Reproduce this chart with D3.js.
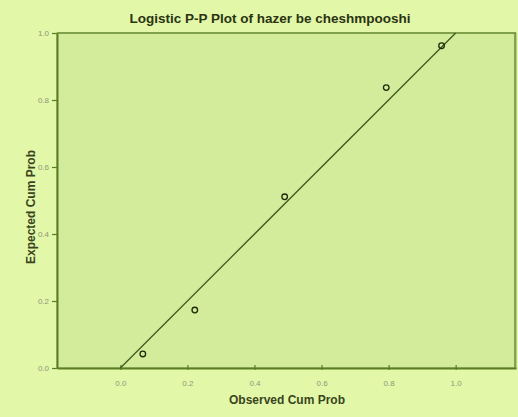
<!DOCTYPE html>
<html>
<head>
<meta charset="utf-8">
<script src="https://cdn.jsdelivr.net/npm/d3@7"></script>
<style>
  html, body { margin: 0; padding: 0; background: #e2f7a8; }
  svg { display: block; }
</style>
</head>
<body>
<div id="chart"></div>
<script>
// observed vs expected cumulative probabilities
const observed = [0.067, 0.222, 0.490, 0.793, 0.958]
const expected = [0.042, 0.173, 0.511, 0.837, 0.962]
const tickValues = [0.0, 0.2, 0.4, 0.6, 0.8, 1.0]
const refLine = [0, 1]

const width = 518
const height = 417
const margin = { top: 33, right: 2, bottom: 49, left: 57 }

const svg = d3.select('#chart')
  .append('svg')
    .attr('width', width)
    .attr('height', height)

svg.append('rect')
  .attr('width', width)
  .attr('height', height)
  .attr('fill', '#e2f7a8')

const x = d3.scaleLinear()
  .domain([-0.189, 1.18])
  .range([margin.left, width - margin.right])

const y = d3.scaleLinear()
  .domain([0, 1])
  .range([height - margin.bottom, margin.top])

// plot area
svg.append('rect')
  .attr('x', x.range()[0])
  .attr('y', y(1))
  .attr('width', x.range()[1] - x.range()[0])
  .attr('height', y(0) - y(1))
  .attr('fill', '#d3ec9b')
  .attr('stroke', '#8fae5a')
  .attr('stroke-width', 1)

const axisColor = '#5b7d24'

const xAxis = svg.append('g')
  .attr('transform', 'translate(0,' + y(0) + ')')
  .call(d3.axisBottom(x).tickValues(tickValues).tickFormat(d3.format('.1f')).tickSize(5).tickSizeOuter(0))
const yAxis = svg.append('g')
  .attr('transform', 'translate(' + x.range()[0] + ',0)')
  .call(d3.axisLeft(y).tickValues(tickValues).tickFormat(d3.format('.1f')).tickSize(5).tickSizeOuter(0))

xAxis.selectAll('.tick line').attr('transform', 'translate(0,-3)')
;[xAxis, yAxis].forEach(ax => {
  ax.select('.domain').attr('stroke', axisColor).attr('stroke-width', 2)
  ax.selectAll('.tick line').attr('stroke', axisColor).attr('stroke-width', 1.2)
  ax.selectAll('.tick text')
    .attr('fill', '#8a9a78')
    .style('font-family', 'Arial, "Liberation Sans", sans-serif')
    .style('font-size', '8px')
})
xAxis.selectAll('.tick text').attr('dy', '1.2em')

// top and right border of the plot
svg.append('line')
  .attr('x1', x.range()[0]).attr('x2', x.range()[1])
  .attr('y1', y(1)).attr('y2', y(1))
  .attr('stroke', '#6f8f3a').attr('stroke-width', 1.5)
svg.append('line')
  .attr('x1', x.range()[1] - 1).attr('x2', x.range()[1] - 1)
  .attr('y1', y(1)).attr('y2', y(0))
  .attr('stroke', '#6f8f3a').attr('stroke-width', 1.5)

// reference line
svg.append('line')
  .attr('x1', x(refLine[0])).attr('y1', y(refLine[0]))
  .attr('x2', x(refLine[1])).attr('y2', y(refLine[1]))
  .attr('stroke', '#3d5a1c')
  .attr('stroke-width', 1.3)

// points
svg.selectAll('circle.pt')
  .data(observed.map((o, i) => [o, expected[i]]))
  .enter()
  .append('circle')
    .attr('class', 'pt')
    .attr('cx', d => x(d[0]))
    .attr('cy', d => y(d[1]))
    .attr('r', 2.8)
    .attr('fill', 'none')
    .attr('stroke', '#1e2a0a')
    .attr('stroke-width', 1.3)

// title and labels
svg.append('text')
  .attr('x', 270)
  .attr('y', 23)
  .attr('text-anchor', 'middle')
  .style('font-family', 'Arial, "Liberation Sans", sans-serif')
  .style('font-weight', 'bold')
  .style('font-size', '13.5px')
  .attr('fill', '#2a3312')
  .text('Logistic P-P Plot of hazer be cheshmpooshi')

svg.append('text')
  .attr('x', 287)
  .attr('y', 404)
  .attr('text-anchor', 'middle')
  .style('font-family', 'Arial, "Liberation Sans", sans-serif')
  .style('font-weight', 'bold')
  .style('font-size', '12px')
  .attr('fill', '#3a4520')
  .text('Observed Cum Prob')

svg.append('text')
  .attr('transform', 'translate(35,207) rotate(-90)')
  .attr('text-anchor', 'middle')
  .style('font-family', 'Arial, "Liberation Sans", sans-serif')
  .style('font-weight', 'bold')
  .style('font-size', '12px')
  .attr('fill', '#3a4520')
  .text('Expected Cum Prob')
</script>
</body>
</html>
